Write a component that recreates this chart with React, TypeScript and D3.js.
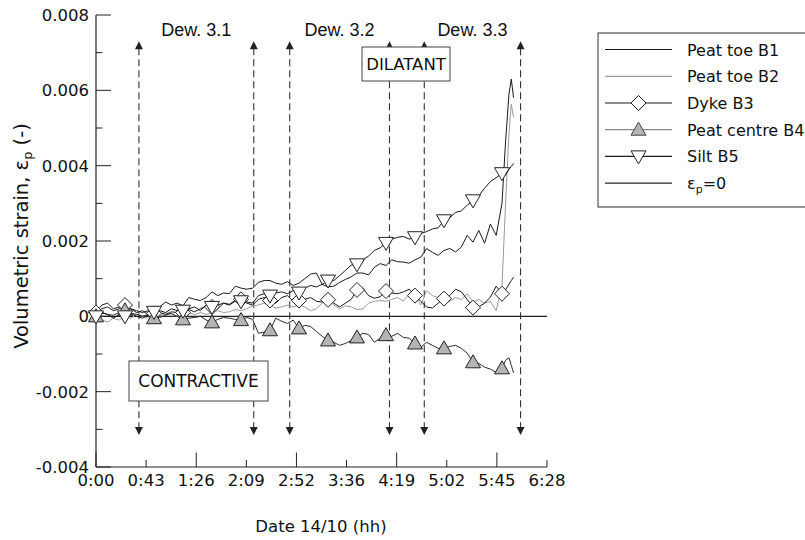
import React from "react";
import * as d3 from "d3";

// time in minutes after 0:00 on 14/10
const times = [
  0, 5, 10, 15, 20, 25, 30, 35, 40, 45,
  50, 55, 60, 65, 70, 75, 80, 85, 90, 95,
  100, 105, 110, 115, 120, 125, 130, 135, 140, 145,
  150, 155, 160, 165, 170, 175, 180, 185, 190, 195,
  200, 205, 210, 215, 220, 225, 230, 235, 240, 245,
  250, 255, 260, 265, 270, 275, 280, 285, 290, 295,
  300, 305, 310, 315, 320, 325, 330, 335, 340, 345,
  350, 353, 356, 358, 360,
];

const peatToeB1 = [
  0.0001, 0.0003, 0.00035, 0.0002, 0.00025, 0.00015, 0.0002, 0.00015, 0.0001, 0.00015,
  0.0001, 0.00025, 0.00038, 0.0003, 0.00035, 0.00028, 0.0005, 0.00045, 0.00042, 0.0005,
  0.00065, 0.00055, 0.00062, 0.0006, 0.0008, 0.00075, 0.00072, 0.00075, 0.0009, 0.00095,
  0.00095, 0.00088, 0.00085, 0.00092, 0.00082, 0.00088, 0.001, 0.00112, 0.00115, 0.00085,
  0.00078, 0.0008, 0.0009, 0.00098, 0.00105, 0.00115, 0.00115, 0.0011, 0.0013, 0.0014,
  0.00135, 0.0015, 0.00145, 0.00144, 0.00141, 0.0015, 0.00157, 0.0018, 0.0017, 0.00162,
  0.00175, 0.0018, 0.00171, 0.00184, 0.00215, 0.00197, 0.00228, 0.00194, 0.00245, 0.00215,
  0.003, 0.0046, 0.0059, 0.0063, 0.0058,
];

const peatToeB2 = [
  0, -0.0001, -0.00015, -0.00005, -0.0001, 0, -0.00005, 0.00005, 0, -0.00005,
  0.00005, 0, 0.0001, 0.00005, 0, 0.00005, 0.0001, 0.00005, 0.0001, 0.00005,
  0.0001, 0.00015, 0.0001, 0.00012, 0.00018, 0.00015, 0.0002, 0.00028, 0.0003, 0.00035,
  0.0003, 0.00022, 0.00025, 0.0003, 0.00025, 0.0003, 0.00025, 0.00015, 0.0002, 0.00035,
  0.00042, 0.0003, 0.0002, 0.00028, 0.00025, 0.00018, 0.0002, 0.00035, 0.0004, 0.00042,
  0.0004, 0.00045, 0.0005, 0.0004, 0.0006, 0.00055, 0.0003, 0.00068, 0.00055, 0.0005,
  0.00035, 0.0004, 0.0005, 0.00045, 0.0006, 0.00038, 0.00045, 0.00035, 0.0004, 0.00015,
  0.0008, 0.00295, 0.00486, 0.00563, 0.00528,
];

const dykeB3 = [
  0.0001, 0.0002, 0.00025, 0.00015, 0.0002, 0.0003, 0.0002, 0.0001, 0.00015, 0.00005,
  0.00008, 0.00015, 0.0001, 0.0002, 0.00015, 0.0001, 0.0002, 0.00025, 0.00015, 0.0003,
  0.00025, 0.0002, 0.00035, 0.0003, 0.0004, 0.00045, 0.00035, 0.0003, 0.00045, 0.0005,
  0.00042, 0.00035, 0.0005, 0.00055, 0.0004, 0.00042, 0.00045, 0.0005, 0.0004, 0.00038,
  0.00044, 0.00035, 0.00025, 0.00035, 0.00045, 0.0007, 0.00075, 0.00055, 0.00048, 0.00052,
  0.00067, 0.00062, 0.0006, 0.00065, 0.00072, 0.00055, 0.0004, 0.00025, 0.00022, 0.00035,
  0.00047, 0.00055, 0.00072, 0.00065, 0.00045, 0.00023, 0.00025, 0.00035, 0.00051, 0.0008,
  0.0006, 0.0007, 0.00085, 0.00095, 0.00104,
];

const peatCentreB4 = [
  0, 0.0001, 0.00005, 0.00003, 0.0001, 0.00016, 0.00008, 0, -0.00005, 0.00003,
  -0.00005, -0.00003, 0.00003, 0.00008, 0, -0.00008, -0.00005, -0.00003, 0, -0.0001,
  -0.00016, -0.00008, -0.00003, -0.00005, -0.00008, -0.0001, -0.00003, -0.00008, -0.00045, -0.00042,
  -0.00037, -0.00005, -0.00013, -0.00019, -0.0001, -0.00032, -0.00024, -0.00027, -0.0004, -0.00053,
  -0.00064, -0.00069, -0.00077, -0.00072, -0.00064, -0.00056, -0.00045, -0.00048, -0.00069, -0.00058,
  -0.0005, -0.00053, -0.00045, -0.00056, -0.00058, -0.00072, -0.00082, -0.00069, -0.00077, -0.00085,
  -0.00085, -0.0008, -0.00077, -0.00085, -0.00098, -0.00122, -0.00125, -0.00135, -0.0014, -0.00149,
  -0.00138, -0.00117, -0.0011, -0.0013, -0.0015,
];

const siltB5 = [
  0, 0.0001, 0.00005, -0.00005, 0.00005, 0, 0.00008, 0.00005, 0, 0.00005,
  0.00012, 0.0001, 0.00005, 0.00012, 0.0001, 0.00015, 0.00018, 0.00012, 0.0002, 0.00028,
  0.00025, 0.0003, 0.00035, 0.00032, 0.00042, 0.0004, 0.00038, 0.00035, 0.00055, 0.0006,
  0.00055, 0.00062, 0.00065, 0.0006, 0.00068, 0.00063, 0.00075, 0.00082, 0.00078, 0.00085,
  0.00095, 0.00095, 0.00108, 0.00122, 0.00136, 0.00138, 0.0015, 0.0016, 0.00175, 0.00182,
  0.00195, 0.00205, 0.0021, 0.00212, 0.00205, 0.0021, 0.0022, 0.00225, 0.00232, 0.00235,
  0.00255, 0.00262, 0.00276, 0.0028, 0.00295, 0.00308, 0.0032, 0.0034, 0.00358, 0.00368,
  0.0038, 0.00375, 0.0039, 0.00398, 0.00406,
];

// dewatering phases (minutes)
const dewLabels = ["Dew. 3.1", "Dew. 3.2", "Dew. 3.3"];
const dewStart = [37, 167, 283];
const dewEnd = [136, 253, 366];

const xTickLabels = ["0:00", "0:43", "1:26", "2:09", "2:52", "3:36", "4:19", "5:02", "5:45", "6:28"];
const yTickLabels = ["-0.004", "-0.002", "0", "0.002", "0.004", "0.006", "0.008"];

const legendNames = ["Peat toe B1", "Peat toe B2", "Dyke B3", "Peat centre B4", "Silt B5"];

const FONT = "'DejaVu Sans', Verdana, sans-serif";

const markerPath = (kind: string, cx: number, cy: number) => {
  if (kind === "diamond") {
    const r = 7.5;
    return `M${cx},${cy - r}L${cx + r},${cy}L${cx},${cy + r}L${cx - r},${cy}Z`;
  }
  const h = 6.5;
  const w = 7.5;
  if (kind === "up") {
    return `M${cx},${cy - h - 1}L${cx + w},${cy + h - 1}L${cx - w},${cy + h - 1}Z`;
  }
  return `M${cx - w},${cy - h + 1}L${cx + w},${cy - h + 1}L${cx},${cy + h + 1}Z`;
};

const App: React.FC = () => {
  const width = 805;
  const height = 540;
  const x = d3.scaleLinear().domain([0, 388.8]).range([96, 547]);
  const y = d3.scaleLinear().domain([-0.004, 0.008]).range([467, 15]);

  const series = [
    { name: legendNames[0], values: peatToeB1, stroke: "#1a1a1a", marker: "", fill: "" },
    { name: legendNames[1], values: peatToeB2, stroke: "#9a9a9a", marker: "", fill: "" },
    { name: legendNames[2], values: dykeB3, stroke: "#1a1a1a", marker: "diamond", fill: "#fff" },
    { name: legendNames[3], values: peatCentreB4, stroke: "#2a2a2a", marker: "up", fill: "#b4b4b4" },
    { name: legendNames[4], values: siltB5, stroke: "#1a1a1a", marker: "down", fill: "#fff" },
  ];

  const line = d3
    .line<number>()
    .x((_, i) => x(times[i]))
    .y((d) => y(d));

  const markerIdx = times
    .map((t, i) => (t % 25 === 0 && t <= 350 ? i : -1))
    .filter((i) => i >= 0);

  const xTicks = xTickLabels.map((_, i) => i * 43.2);
  const yTicks = d3.range(-4, 9).map((v) => v / 1000);

  const arrowTop = y(0.0073);
  const arrowBottom = y(-0.00315);

  const legendRows = [49.5, 76.3, 103, 129.7, 156.4, 183.1];

  return (
    <svg
      width={width}
      height={height}
      style={{ position: "absolute", left: 0, top: 0, background: "#fff" }}
      fontFamily={FONT}
    >
      <rect x={0} y={0} width={width} height={height} fill="#fff" />

      {/* axes */}
      <line x1={96} x2={96} y1={y(0.008)} y2={y(-0.004)} stroke="#222" strokeWidth={1.2} />
      <line x1={96} x2={x(388.8)} y1={467} y2={467} stroke="#222" strokeWidth={1.2} />
      {yTicks.map((v, i) => (
        <line
          key={"yt" + i}
          x1={96}
          x2={96 + (i % 2 === 0 ? 15 : 6.5)}
          y1={y(v)}
          y2={y(v)}
          stroke="#222"
          strokeWidth={1}
        />
      ))}
      {yTickLabels.map((t, i) => (
        <text key={"yl" + i} x={89} y={y(-0.004 + i * 0.002) + 6} textAnchor="end" fontSize={16.5} fill="#111">
          {t}
        </text>
      ))}
      {xTicks.map((v, i) => (
        <g key={"xt" + i}>
          <line
            x1={x(v)}
            x2={x(v)}
            y1={467}
            y2={467 - (i % 2 === 0 ? 14.5 : 7)}
            stroke="#222"
            strokeWidth={1}
          />
          <text x={x(v)} y={486} textAnchor="middle" fontSize={16.5} fill="#111">
            {xTickLabels[i]}
          </text>
        </g>
      ))}
      <text x={321} y={532} textAnchor="middle" fontSize={16.5} fill="#111">
        Date 14/10 (hh)
      </text>
      <text transform="translate(28,236) rotate(-90)" textAnchor="middle" fontSize={19.5} fill="#111">
        Volumetric strain, ε
        <tspan fontSize={13} baselineShift="-4">p</tspan> (-)
      </text>

      {/* zero line */}
      <line x1={96} x2={x(388.8)} y1={y(0)} y2={y(0)} stroke="#222" strokeWidth={1.2} />

      {/* dewatering arrows */}
      {dewStart.map((s, i) => (
        <g key={"dew" + i}>
          {[s, dewEnd[i]].map((t, j) => (
            <g key={j}>
              <line
                x1={x(t)}
                x2={x(t)}
                y1={arrowTop + 7}
                y2={arrowBottom - 7}
                stroke="#333"
                strokeWidth={1.1}
                strokeDasharray="7,4"
              />
              <path
                d={`M${x(t)},${arrowTop}L${x(t) + 4},${arrowTop + 8}L${x(t) - 4},${arrowTop + 8}Z`}
                fill="#222"
              />
              <path
                d={`M${x(t)},${arrowBottom}L${x(t) + 4},${arrowBottom - 8}L${x(t) - 4},${arrowBottom - 8}Z`}
                fill="#222"
              />
            </g>
          ))}
          <text
            x={(x(s) + x(dewEnd[i])) / 2}
            y={36}
            textAnchor="middle"
            fontSize={18}
            fontFamily="'Liberation Sans', Arial, sans-serif"
            fill="#111"
          >
            {dewLabels[i]}
          </text>
        </g>
      ))}

      {/* series */}
      {series.map((s, k) => (
        <path
          key={"ln" + k}
          d={line(s.values) || ""}
          fill="none"
          stroke={s.stroke}
          strokeWidth={1}
          strokeLinejoin="round"
        />
      ))}
      {series
        .filter((s) => s.marker)
        .map((s, k) => (
          <g key={"mk" + k}>
            {markerIdx.map((i) => (
              <path
                key={i}
                d={markerPath(s.marker, x(times[i]), y(s.values[i]))}
                fill={s.fill}
                stroke="#222"
                strokeWidth={1}
              />
            ))}
          </g>
        ))}

      {/* annotation boxes */}
      <rect x={362} y={47} width={88} height={34} fill="#fff" stroke="#444" strokeWidth={1} />
      <text x={406} y={70} textAnchor="middle" fontSize={16.5} fill="#111">
        DILATANT
      </text>
      <rect x={129} y={361} width={139} height={40} fill="#fff" stroke="#444" strokeWidth={1} />
      <text x={198.5} y={387} textAnchor="middle" fontSize={17} fill="#111">
        CONTRACTIVE
      </text>

      {/* legend */}
      <rect x={598} y={33} width={240} height={174} fill="#fff" stroke="#333" strokeWidth={1} />
      {legendRows.map((ry, i) => {
        const s = series[i];
        const stroke = i === 5 ? "#222" : i === 3 ? "#888" : s.stroke;
        return (
          <g key={"lg" + i}>
            <line x1={605} x2={672} y1={ry} y2={ry} stroke={stroke} strokeWidth={1.2} />
            {s && s.marker && (
              <path d={markerPath(s.marker, 638.5, ry)} fill={s.fill} stroke={i === 3 ? "#444" : "#222"} strokeWidth={1} />
            )}
            <text x={687} y={ry + 6} fontSize={16} fill="#111">
              {i < 5 ? (
                legendNames[i]
              ) : (
                <>
                  ε<tspan fontSize={11} baselineShift="-4">p</tspan>=0
                </>
              )}
            </text>
          </g>
        );
      })}
    </svg>
  );
};

export default App;
